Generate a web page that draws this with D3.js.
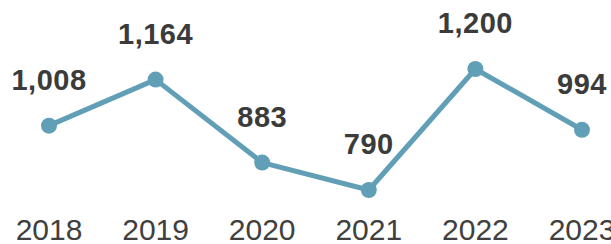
<!DOCTYPE html>
<html>
<head>
<meta charset="utf-8">
<script src="https://cdn.jsdelivr.net/npm/d3@7"></script>
<style>
  html, body { margin: 0; padding: 0; background: #fff; }
  svg { display: block; }
</style>
</head>
<body>
<div id="chart"></div>
<script>
// Data
const years = ["2018", "2019", "2020", "2021", "2022", "2023"];
const counts = [1008, 1164, 883, 790, 1200, 994];

const width = 611, height = 244;
const lineColor = "#619fb7";
const textColor = "#3b3b3b";

const svg = d3.select("#chart").append("svg")
    .attr("width", width)
    .attr("height", height);

const x = d3.scalePoint()
    .domain(years)
    .range([49, 582]);

const y = d3.scaleLinear()
    .domain([790, 1200])
    .range([190, 69]);

const data = years.map((yr, i) => ({ year: yr, value: counts[i] }));

// year labels along the bottom
svg.append("g")
    .selectAll("text")
    .data(years)
    .enter()
    .append("text")
    .attr("x", d => x(d))
    .attr("y", 240)
    .attr("text-anchor", "middle")
    .attr("font-family", "'Liberation Sans Narrow', 'Liberation Sans', Arial, sans-serif")
    .attr("font-size", 30)
    .attr("fill", "#404040")
    .text(d => d);

const line = d3.line()
    .x(d => x(d.year))
    .y(d => y(d.value));

svg.append("path")
    .datum(data)
    .attr("fill", "none")
    .attr("stroke", lineColor)
    .attr("stroke-width", 5)
    .attr("stroke-linejoin", "round")
    .attr("d", line);

svg.selectAll("circle.pt")
    .data(data)
    .enter()
    .append("circle")
    .attr("class", "pt")
    .attr("cx", d => x(d.year))
    .attr("cy", d => y(d.value))
    .attr("r", 8)
    .attr("fill", lineColor);

// value labels above points
svg.selectAll("text.val")
    .data(data)
    .enter()
    .append("text")
    .attr("class", "val")
    .attr("x", d => x(d.year))
    .attr("y", d => y(d.value) - 36)
    .attr("text-anchor", "middle")
    .attr("font-family", "'Liberation Sans', Arial, sans-serif")
    .attr("font-weight", "bold")
    .attr("font-size", 29)
    .attr("letter-spacing", 0.5)
    .attr("fill", textColor)
    .text(d => d3.format(",")(d.value));
</script>
</body>
</html>
